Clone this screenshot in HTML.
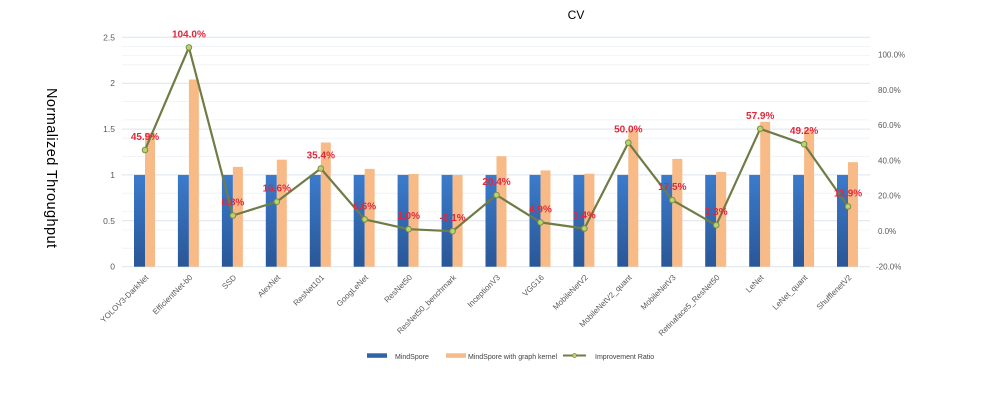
<!DOCTYPE html>
<html><head><meta charset="utf-8"><style>
html,body{margin:0;padding:0;background:#fff;}
svg{display:block;font-family:"Liberation Sans",sans-serif;}
</style></head><body>
<svg width="997" height="410" viewBox="0 0 997 410" xmlns="http://www.w3.org/2000/svg">
<defs>
<linearGradient id="bg" x1="0" y1="0" x2="0" y2="1">
<stop offset="0" stop-color="#3b7bcc"/><stop offset="1" stop-color="#295797"/>
</linearGradient>
</defs>
<rect width="997" height="410" fill="#fff"/>
<text x="576" y="19" font-size="12" text-anchor="middle" fill="#000">CV</text>
<text transform="translate(47,168) rotate(90)" font-size="14.5" text-anchor="middle" fill="#000" textLength="160">Normalized  Throughput</text>
<!-- minor gridlines -->
<g stroke="#f0f4f8" stroke-width="1">
<line x1="122" x2="870" y1="248.3" y2="248.3"/><line x1="122" x2="870" y1="230.0" y2="230.0"/><line x1="122" x2="870" y1="211.6" y2="211.6"/><line x1="122" x2="870" y1="193.3" y2="193.3"/>
<line x1="122" x2="870" y1="156.5" y2="156.5"/><line x1="122" x2="870" y1="138.2" y2="138.2"/><line x1="122" x2="870" y1="119.9" y2="119.9"/><line x1="122" x2="870" y1="101.5" y2="101.5"/>
<line x1="122" x2="870" y1="64.8" y2="64.8"/><line x1="122" x2="870" y1="46.5" y2="46.5"/><line x1="122" x2="870" y1="55.6" y2="55.6"/>
</g>
<g stroke="#dbe4ec" stroke-width="1">
<line x1="122" x2="870" y1="266.7" y2="266.7"/><line x1="122" x2="870" y1="220.8" y2="220.8"/><line x1="122" x2="870" y1="174.9" y2="174.9"/><line x1="122" x2="870" y1="129.1" y2="129.1"/><line x1="122" x2="870" y1="83.2" y2="83.2"/><line x1="122" x2="870" y1="37.3" y2="37.3"/>
</g>
<g font-size="8.5" fill="#595959" text-anchor="end">
<text x="115" y="269.7">0</text><text x="115" y="223.8">0.5</text><text x="115" y="177.9">1</text><text x="115" y="132.1">1.5</text><text x="115" y="86.2">2</text><text x="115" y="40.3">2.5</text>
</g>
<g font-size="8" fill="#595959">
<text x="876" y="269.7">-20.0%</text><text x="878" y="234">0.0%</text><text x="878" y="198.7">20.0%</text><text x="878" y="163.4">40.0%</text><text x="878" y="128.1">60.0%</text><text x="878" y="92.8">80.0%</text><text x="878" y="57.5">100.0%</text>
</g>
<!-- blue bars -->
<g fill="url(#bg)">
<rect x="134" y="174.9" width="11" height="91.8"/><rect x="177.9" y="174.9" width="11" height="91.8"/><rect x="221.9" y="174.9" width="11" height="91.8"/><rect x="265.8" y="174.9" width="11" height="91.8"/><rect x="309.8" y="174.9" width="11" height="91.8"/><rect x="353.7" y="174.9" width="11" height="91.8"/><rect x="397.6" y="174.9" width="11" height="91.8"/><rect x="441.6" y="174.9" width="11" height="91.8"/><rect x="485.5" y="174.9" width="11" height="91.8"/><rect x="529.5" y="174.9" width="11" height="91.8"/><rect x="573.4" y="174.9" width="11" height="91.8"/><rect x="617.3" y="174.9" width="11" height="91.8"/><rect x="661.3" y="174.9" width="11" height="91.8"/><rect x="705.2" y="174.9" width="11" height="91.8"/><rect x="749.2" y="174.9" width="11" height="91.8"/><rect x="793.1" y="174.9" width="11" height="91.8"/><rect x="837" y="174.9" width="11" height="91.8"/>
</g>
<!-- orange bars -->
<g fill="#f8bb88">
<rect x="145" y="132.8" width="10" height="133.9"/><rect x="188.9" y="79.5" width="10" height="187.2"/><rect x="232.9" y="166.9" width="10" height="99.8"/><rect x="276.8" y="159.7" width="10" height="107"/><rect x="320.8" y="142.5" width="10" height="124.2"/><rect x="364.7" y="168.9" width="10" height="97.8"/><rect x="408.6" y="174.0" width="10" height="92.7"/><rect x="452.6" y="175.0" width="10" height="91.7"/><rect x="496.5" y="156.2" width="10" height="110.5"/><rect x="540.5" y="170.4" width="10" height="96.3"/><rect x="584.4" y="173.7" width="10" height="93"/><rect x="628.3" y="129.1" width="10" height="137.6"/><rect x="672.3" y="158.9" width="10" height="107.8"/><rect x="716.2" y="171.9" width="10" height="94.8"/><rect x="760.2" y="121.8" width="10" height="144.9"/><rect x="804.1" y="129.8" width="10" height="136.9"/><rect x="848" y="162.2" width="10" height="104.5"/>
</g>
<!-- line -->
<polyline fill="none" stroke="#6f7c45" stroke-width="2.2" stroke-linejoin="round" points="145,150 188.9,47.4 232.9,215.5 276.8,201.7 320.8,168.5 364.7,219.4 408.6,229.2 452.6,231.2 496.5,195 540.5,222.4 584.4,228.5 628.3,142.7 672.3,200.1 716.2,225.2 760.2,128.8 804.1,144.2 848,206.5"/>
<g fill="#b9d46c" stroke="#7d8c4a" stroke-width="1">
<circle cx="145" cy="150" r="2.8"/><circle cx="188.9" cy="47.4" r="2.8"/><circle cx="232.9" cy="215.5" r="2.8"/><circle cx="276.8" cy="201.7" r="2.8"/><circle cx="320.8" cy="168.5" r="2.8"/><circle cx="364.7" cy="219.4" r="2.8"/><circle cx="408.6" cy="229.2" r="2.8"/><circle cx="452.6" cy="231.2" r="2.8"/><circle cx="496.5" cy="195" r="2.8"/><circle cx="540.5" cy="222.4" r="2.8"/><circle cx="584.4" cy="228.5" r="2.8"/><circle cx="628.3" cy="142.7" r="2.8"/><circle cx="672.3" cy="200.1" r="2.8"/><circle cx="716.2" cy="225.2" r="2.8"/><circle cx="760.2" cy="128.8" r="2.8"/><circle cx="804.1" cy="144.2" r="2.8"/><circle cx="848" cy="206.5" r="2.8"/>
</g>
<!-- data labels -->
<g font-size="10" font-weight="bold" fill="#e0283c" text-anchor="middle">
<text x="145" y="140">45.9%</text><text x="188.9" y="37.4">104.0%</text><text x="232.9" y="205.5">8.8%</text><text x="276.8" y="191.7">16.6%</text><text x="320.8" y="158.5">35.4%</text><text x="364.7" y="209.4">6.6%</text><text x="408.6" y="219.2">1.0%</text><text x="452.6" y="221.2">-0.1%</text><text x="496.5" y="185">20.4%</text><text x="540.5" y="212.4">4.9%</text><text x="584.4" y="218.5">1.4%</text><text x="628.3" y="132.7">50.0%</text><text x="672.3" y="190.1">17.5%</text><text x="716.2" y="215.2">3.3%</text><text x="760.2" y="118.8">57.9%</text><text x="804.1" y="134.2">49.2%</text><text x="848" y="196.5">13.9%</text>
</g>
<!-- x labels -->
<g font-size="8" fill="#595959" text-anchor="end">
<text x="149" y="278" transform="rotate(-45 149 278)">YOLOV3-DarkNet</text>
<text x="192.9" y="278" transform="rotate(-45 192.9 278)">EfficientNet-b0</text>
<text x="236.9" y="278" transform="rotate(-45 236.9 278)">SSD</text>
<text x="280.8" y="278" transform="rotate(-45 280.8 278)">AlexNet</text>
<text x="324.8" y="278" transform="rotate(-45 324.8 278)">ResNet101</text>
<text x="368.7" y="278" transform="rotate(-45 368.7 278)">GoogLeNet</text>
<text x="412.6" y="278" transform="rotate(-45 412.6 278)">ResNet50</text>
<text x="456.6" y="278" transform="rotate(-45 456.6 278)">ResNet50_benchmark</text>
<text x="500.5" y="278" transform="rotate(-45 500.5 278)">InceptionV3</text>
<text x="544.5" y="278" transform="rotate(-45 544.5 278)">VGG16</text>
<text x="588.4" y="278" transform="rotate(-45 588.4 278)">MobileNetV2</text>
<text x="632.3" y="278" transform="rotate(-45 632.3 278)">MobileNetV2_quant</text>
<text x="676.3" y="278" transform="rotate(-45 676.3 278)">MobileNetV3</text>
<text x="720.2" y="278" transform="rotate(-45 720.2 278)">Retinaface5_ResNet50</text>
<text x="764.2" y="278" transform="rotate(-45 764.2 278)">LeNet</text>
<text x="808.1" y="278" transform="rotate(-45 808.1 278)">LeNet_quant</text>
<text x="852" y="278" transform="rotate(-45 852 278)">ShufflenetV2</text>
</g>
<!-- legend -->
<rect x="367" y="353.3" width="20" height="4.5" fill="#2f62a8"/>
<text x="395" y="359" font-size="7" fill="#404040">MindSpore</text>
<rect x="446" y="353.3" width="20" height="4.5" fill="#f8bb88"/>
<text x="468" y="359" font-size="7" fill="#404040">MindSpore with graph kernel</text>
<line x1="563" x2="586" y1="355.5" y2="355.5" stroke="#6f7c45" stroke-width="2"/>
<circle cx="574.5" cy="355.5" r="2" fill="#b9d46c" stroke="#7d8c4a" stroke-width="0.8"/>
<text x="595" y="359" font-size="7" fill="#404040">Improvement Ratio</text>
</svg>
</body></html>
